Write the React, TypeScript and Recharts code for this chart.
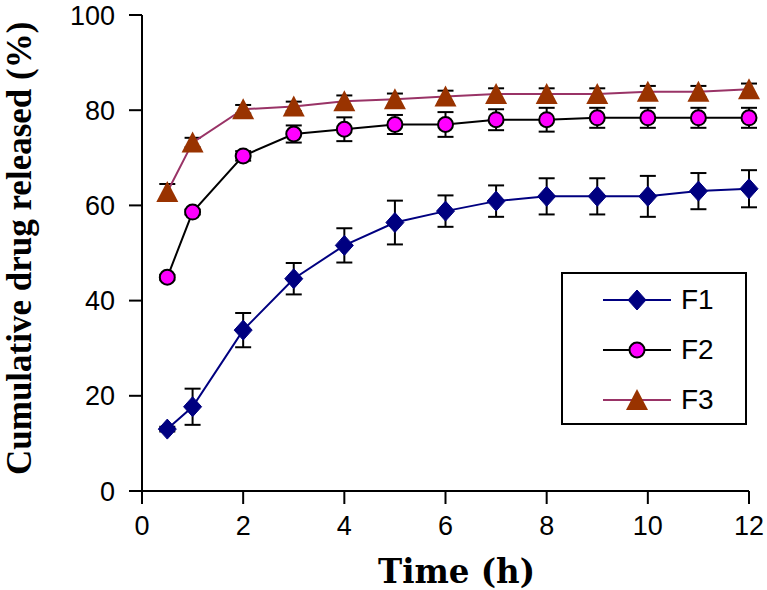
import React from 'react';
import { LineChart, Line, XAxis, YAxis, ErrorBar, Legend, Label } from 'recharts';

const times = [0.5, 1, 2, 3, 4, 5, 6, 7, 8, 9, 10, 11, 12];
const f1 = [13.0, 17.7, 33.8, 44.6, 51.6, 56.4, 58.8, 60.9, 61.9, 61.9, 61.9, 63.0, 63.5];
const f1Err = [0.5, 3.8, 3.6, 3.3, 3.6, 4.6, 3.3, 3.3, 3.8, 3.8, 4.3, 3.8, 3.9];
const f2 = [44.9, 58.6, 70.4, 75.0, 76.0, 77.0, 77.0, 78.0, 78.0, 78.4, 78.4, 78.4, 78.4];
const f2Err = [0.5, 0.5, 1.0, 1.8, 2.5, 2.0, 2.6, 2.2, 2.5, 2.1, 2.1, 2.1, 2.1];
const f3 = [62.8, 73.2, 80.2, 80.8, 81.9, 82.3, 82.9, 83.4, 83.4, 83.4, 83.9, 83.9, 84.4];
const f3Err = [1.7, 1.0, 0.9, 1.0, 1.2, 1.2, 1.2, 1.2, 1.2, 1.2, 1.2, 1.2, 1.2];
const xTicks = [0, 2, 4, 6, 8, 10, 12];
const yTicks = [0, 20, 40, 60, 80, 100];
const seriesNames = ['F1', 'F2', 'F3'];
const xTitle = 'Time (h)';
const yTitle = 'Cumulative drug released (%)';

const data = times.map((t, i) => ({
  t,
  f1: f1[i],
  f1Err: f1Err[i],
  f2: f2[i],
  f2Err: f2Err[i],
  f3: f3[i],
  f3Err: f3Err[i],
}));

const NAVY = '#000080';
const PINK = '#FF00FF';
const BROWN = '#993300';
const PLUM = '#993366';

const Diamond = ({ cx, cy }: any) => (
  <polygon points={`${cx},${cy - 10} ${cx + 9},${cy} ${cx},${cy + 10} ${cx - 9},${cy}`} fill={NAVY} stroke={NAVY} strokeWidth={1} />
);
const Circ = ({ cx, cy }: any) => (
  <circle cx={cx} cy={cy} r={7.5} fill={PINK} stroke="#000" strokeWidth={2} />
);
const Tri = ({ cx, cy }: any) => (
  <polygon points={`${cx},${cy - 11} ${cx + 11},${cy + 10} ${cx - 11},${cy + 10}`} fill={BROWN} />
);

const markerFor: Record<string, any> = { F1: Diamond, F2: Circ, F3: Tri };
const lineColorFor: Record<string, string> = { F1: NAVY, F2: '#000', F3: PLUM };

const makeDot = (Comp: any, prefix: string) => (props: any) => {
  if (props.cx == null || props.cy == null) return <g key={`${prefix}-${props.index}`} />;
  return <Comp key={`${prefix}-${props.index}`} cx={props.cx} cy={props.cy} />;
};

const renderLegend = (props: any) => {
  const payload = props.payload || [];
  return (
    <div style={{ position: 'relative', width: 182, height: 149, borderWidth: 2, borderStyle: 'solid', borderColor: '#000000', background: '#fff' }}>
      {payload.map((entry: any, i: number) => {
        const name = entry.value;
        const M = markerFor[name];
        return (
          <div key={name} style={{ position: 'absolute', left: 39, top: 12 + i * 50, height: 28, display: 'flex', alignItems: 'center' }}>
            <svg width={70} height={28} style={{ display: 'block' }}>
              <line x1={1} y1={14} x2={69} y2={14} stroke={lineColorFor[name]} strokeWidth={2} />
              <M cx={35} cy={14} />
            </svg>
            <span style={{ marginLeft: 9, fontFamily: '"Liberation Sans", Arial, sans-serif', fontSize: 28, color: '#000', lineHeight: '28px' }}>{name}</span>
          </div>
        );
      })}
    </div>
  );
};

const XTitle = (props: any) => {
  const vb = props.viewBox || { x: 142, y: 491, width: 607, height: 99 };
  const cx = vb.x + vb.width / 2 + 11;
  return (
    <text x={cx} y={583} textAnchor="middle" fontFamily='"DejaVu Serif", serif' fontWeight="bold" fontSize={33} fill="#000" textLength={157} lengthAdjust="spacingAndGlyphs">
      {xTitle}
    </text>
  );
};

const YTitle = (props: any) => {
  const vb = props.viewBox || { x: 0, y: 15, width: 142, height: 476 };
  const x = vb.x + 31;
  const y = vb.y + vb.height - 16;
  return (
    <text x={x} y={y} transform={`rotate(-90 ${x} ${y})`} textAnchor="start" fontFamily='"Liberation Serif", "Times New Roman", serif' fontWeight="bold" fontSize={35} fill="#000">
      {yTitle}
    </text>
  );
};

const tickStyle = { fontFamily: '"Liberation Sans", Arial, sans-serif', fontSize: 27, fill: '#000' };
const axisStroke = { stroke: '#000', strokeWidth: 2 };

export default function App() {
  return (
    <div style={{ position: 'absolute', left: 0, top: 0, width: 767, height: 590, background: '#fff' }}>
      <LineChart width={767} height={590} data={data} margin={{ top: 15, right: 18, bottom: 0, left: 0 }}>
        <XAxis
          dataKey="t"
          type="number"
          domain={[0, 12]}
          ticks={xTicks}
          height={99}
          axisLine={axisStroke}
          tickLine={axisStroke}
          tickSize={13}
          tickMargin={12}
          tick={tickStyle}
          interval={0}
        >
          <Label content={<XTitle />} />
        </XAxis>
        <YAxis
          type="number"
          domain={[0, 100]}
          ticks={yTicks}
          width={142}
          axisLine={axisStroke}
          tickLine={axisStroke}
          tickSize={13}
          tickMargin={14}
          tick={tickStyle}
          interval={0}
        >
          <Label content={<YTitle />} />
        </YAxis>
        <Legend
          layout="vertical"
          align="center"
          verticalAlign="middle"
          content={renderLegend}
          wrapperStyle={{ position: 'absolute', left: 561, top: 272, width: 186, height: 153 }}
        />
        <Line type="linear" dataKey="f1" name={seriesNames[0]} stroke={NAVY} strokeWidth={2} dot={makeDot(Diamond, 'a')} activeDot={false} isAnimationActive={false}>
          <ErrorBar dataKey="f1Err" direction="y" width={8} stroke="#000" strokeWidth={2} isAnimationActive={false} />
        </Line>
        <Line type="linear" dataKey="f2" name={seriesNames[1]} stroke="#000" strokeWidth={2} dot={makeDot(Circ, 'b')} activeDot={false} isAnimationActive={false}>
          <ErrorBar dataKey="f2Err" direction="y" width={8} stroke="#000" strokeWidth={2} isAnimationActive={false} />
        </Line>
        <Line type="linear" dataKey="f3" name={seriesNames[2]} stroke={PLUM} strokeWidth={2} dot={makeDot(Tri, 'c')} activeDot={false} isAnimationActive={false}>
          <ErrorBar dataKey="f3Err" direction="y" width={8} stroke="#000" strokeWidth={2} isAnimationActive={false} />
        </Line>
      </LineChart>
    </div>
  );
}
